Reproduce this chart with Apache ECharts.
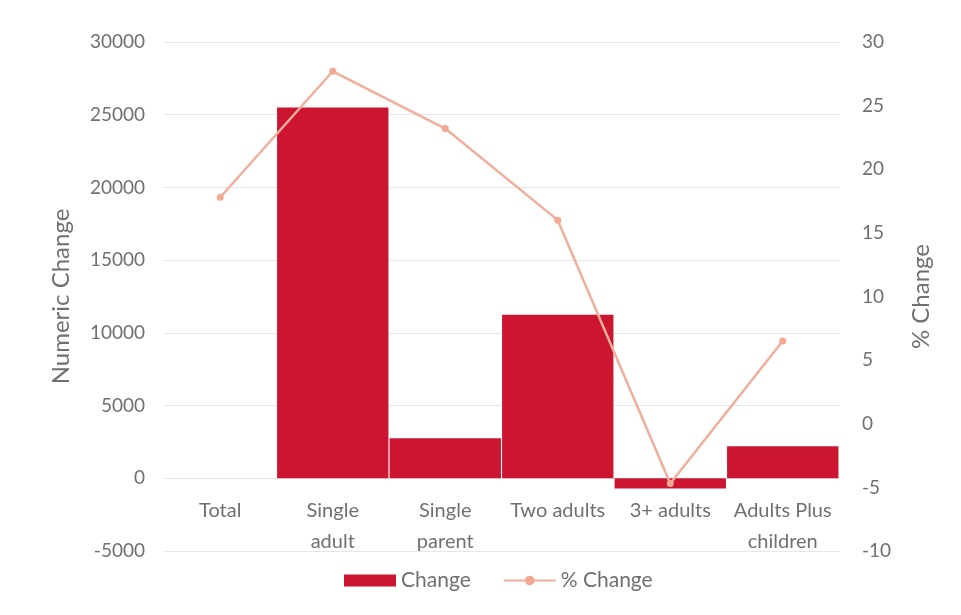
<!DOCTYPE html>
<html><head><meta charset="utf-8">
<script src="https://cdn.jsdelivr.net/npm/echarts@6/dist/echarts.min.js"></script>
<style>html,body{margin:0;padding:0;background:#fff}#c{width:961px;height:615px}</style>
</head><body><div id="c"></div>
<script>
const categories = ["Total", "Single\nadult", "Single\nparent", "Two adults", "3+ adults", "Adults Plus\nchildren"];
const numericChange = [null, 25500, 2750, 11250, -700, 2200];
const pctChange = [17.8, 27.7, 23.2, 16.0, -4.7, 6.5];
const leftTicks = { min: -5000, max: 30000, interval: 5000 };
const rightTicks = { min: -10, max: 30, interval: 5 };

const gridTop = 42, gridBottom = 64, chartH = 615;
const plotH = chartH - gridTop - gridBottom;
// distance from grid bottom up to the zero line of the left axis
const zeroOffset = -plotH * (0 - leftTicks.min) / (leftTicks.max - leftTicks.min);

const chart = echarts.init(document.getElementById('c'));
const font = 'Lato, "Open Sans", sans-serif';
const txt = '#707070';
chart.setOption({
  animation: false,
  textStyle: { fontFamily: font },
  grid: { left: 164, right: 122, top: gridTop, bottom: gridBottom, containLabel: false, outerBoundsMode: 'none' },
  legend: {
    bottom: 19, left: 339, itemGap: 32, itemWidth: 52, itemHeight: 12,
    textStyle: { color: txt, fontSize: 21, fontFamily: font },
    data: [
      { name: 'Change', icon: 'rect' },
      { name: '% Change' }
    ]
  },
  xAxis: {
    type: 'category', data: categories, position: 'bottom', offset: zeroOffset,
    axisLine: { show: true, onZero: false, lineStyle: { color: '#e6e6e6' } },
    axisTick: { show: false },
    axisLabel: { color: txt, fontSize: 20, margin: 17, lineHeight: 31, interval: 0 }
  },
  yAxis: [
    {
      type: 'value', position: 'left', min: leftTicks.min, max: leftTicks.max, interval: leftTicks.interval,
      name: 'Numeric Change', nameLocation: 'middle', nameGap: 91,
      nameTextStyle: { color: txt, fontSize: 24, fontFamily: font },
      axisLabel: { color: txt, fontSize: 19, margin: 19, formatter: v => String(v) },
      axisLine: { show: false }, axisTick: { show: false },
      splitLine: { lineStyle: { color: '#e6e6e6' } }
    },
    {
      type: 'value', position: 'right', min: rightTicks.min, max: rightTicks.max, interval: rightTicks.interval,
      alignTicks: false,
      name: '% Change', nameLocation: 'middle', nameGap: 70,
      nameTextStyle: { color: txt, fontSize: 24, fontFamily: font },
      axisLabel: { color: txt, fontSize: 19, margin: 23, formatter: v => String(v) },
      axisLine: { show: false }, axisTick: { show: false },
      splitLine: { show: false }
    }
  ],
  series: [
    {
      name: 'Change', type: 'bar', data: numericChange, yAxisIndex: 0,
      barCategoryGap: '1%',
      itemStyle: { color: '#CC1530' }
    },
    {
      name: '% Change', type: 'line', data: pctChange, yAxisIndex: 1,
      symbol: 'circle', symbolSize: 7,
      lineStyle: { color: '#F2AE9C', width: 2.5 },
      itemStyle: { color: '#F2A893' }
    }
  ]
});
</script></body></html>
